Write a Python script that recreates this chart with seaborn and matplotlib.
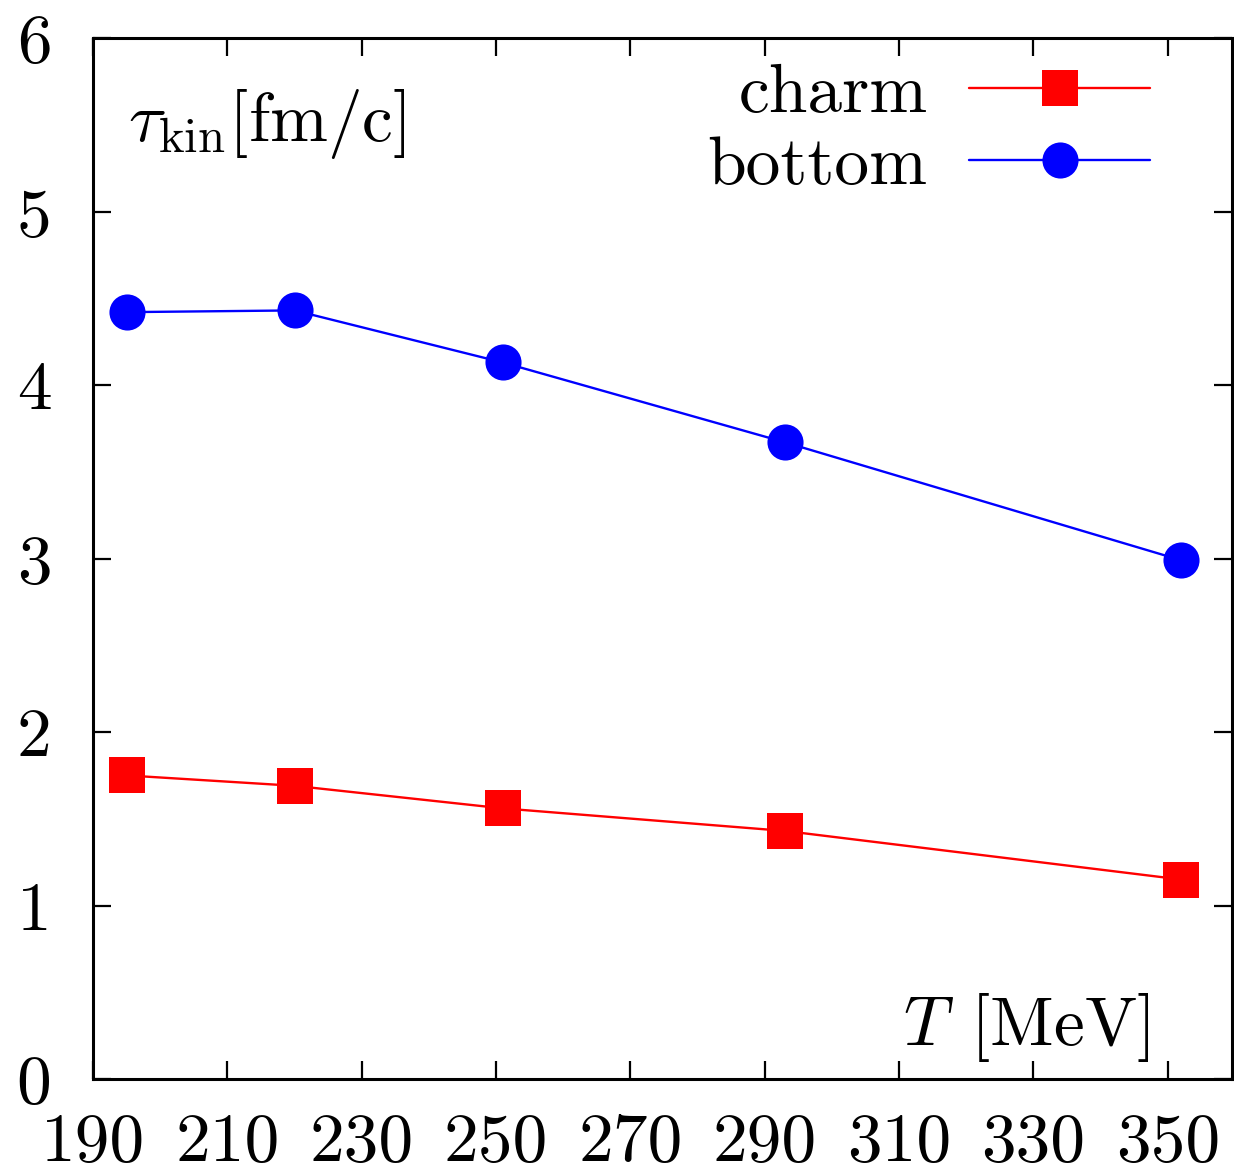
import pandas as pd
import seaborn as sns
import matplotlib.pyplot as plt

# temperatures [MeV] and kinetic relaxation times [fm/c]
T_vals = [195, 220, 251, 293, 352]
tau_charm = [1.75, 1.69, 1.56, 1.43, 1.15]
tau_bottom = [4.42, 4.43, 4.13, 3.67, 2.99]
series_names = ['charm', 'bottom']
x_ticks = [190, 210, 230, 250, 270, 290, 310, 330, 350]
y_ticks = [0, 1, 2, 3, 4, 5, 6]

df = pd.concat([
    pd.DataFrame({'T': T_vals, 'tau': tau_charm, 'quark': 'charm'}),
    pd.DataFrame({'T': T_vals, 'tau': tau_bottom, 'quark': 'bottom'}),
], ignore_index=True)

sns.set_style('ticks')
plt.rcParams['font.family'] = ['cmr10']
plt.rcParams['mathtext.fontset'] = 'cm'
plt.rcParams['axes.formatter.use_mathtext'] = True
plt.rcParams['axes.unicode_minus'] = False
for key in ['text.color', 'axes.labelcolor', 'xtick.color', 'ytick.color', 'axes.edgecolor']:
    plt.rcParams[key] = 'black'

fig = plt.figure(figsize=(12.34, 11.73), dpi=100)
ax = fig.add_axes([0.0754, 0.0801, 0.9226, 0.8875])

sns.lineplot(data=df, x='T', y='tau', hue='quark', style='quark',
             hue_order=series_names, style_order=series_names,
             palette={'charm': '#ff0000', 'bottom': '#0000ff'},
             markers={'charm': 's', 'bottom': 'o'}, dashes=False,
             markersize=26, markeredgewidth=0, linewidth=1.7, ax=ax)

ax.set_xlim(190, 359.5)
ax.set_ylim(0, 6)
ax.set_xticks(x_ticks)
ax.set_yticks(y_ticks)
ax.set_xticklabels([str(v) for v in x_ticks])
ax.set_yticklabels([str(v) for v in y_ticks])
ax.set_xlabel('')
ax.set_ylabel('')

for s in ax.spines.values():
    s.set_linewidth(2.2)
    s.set_visible(True)
ax.tick_params(which='major', direction='in', length=13, width=1.6,
               top=True, right=True, labelsize=50, pad=24)
ax.tick_params(axis='y', pad=30)

ax.text(0.031, 0.901, r'$\tau_{\rm kin}[{\rm fm/c}]$', transform=ax.transAxes,
        fontsize=50, ha='left', va='baseline')
ax.text(0.928, 0.033, r'$T\;\,[{\rm MeV}]$', transform=ax.transAxes,
        fontsize=50, ha='right', va='baseline')

handles, labels = ax.get_legend_handles_labels()
ax.legend(handles, labels, loc='upper right', bbox_to_anchor=(0.971, 1.022),
          frameon=False, markerfirst=False, fontsize=50, handlelength=2.6,
          handletextpad=0.6, labelspacing=0.15, borderaxespad=0.3)

fig.savefig('out.png', dpi=100)
